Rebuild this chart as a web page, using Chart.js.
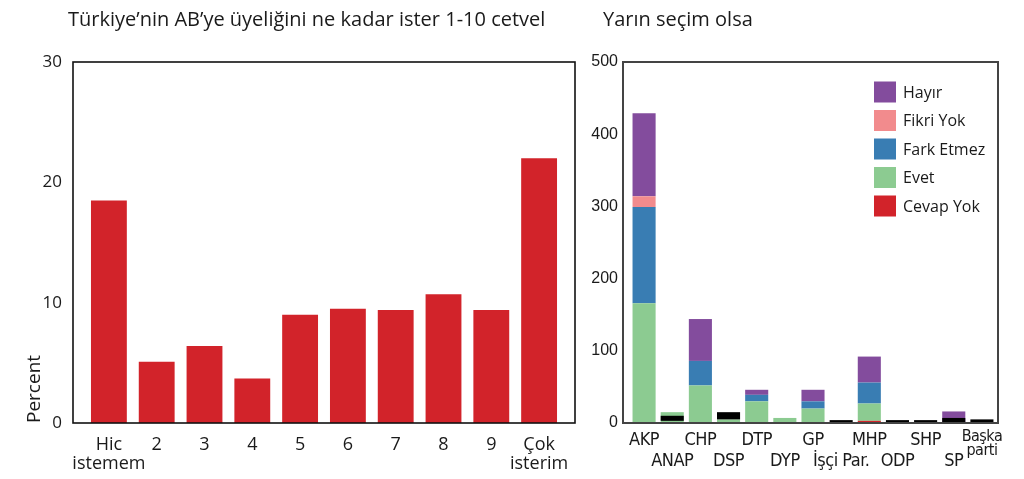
<!DOCTYPE html>
<html>
<head>
<meta charset="utf-8">
<script src="https://cdn.jsdelivr.net/npm/chart.js@4.4.1/dist/chart.umd.min.js"></script>
<style>
  html, body { margin: 0; padding: 0; background: #fff; }
  #wrap { position: relative; width: 1024px; height: 479px; overflow: hidden; }
  .box { position: absolute; top: 0; height: 479px; }
  #leftBox { left: 0; width: 590px; }
  #rightBox { left: 590px; width: 434px; }
</style>
</head>
<body>
<div id="wrap">
  <div class="box" id="leftBox"><canvas id="scaleChart"></canvas></div>
  <div class="box" id="rightBox"><canvas id="voteChart"></canvas></div>
</div>
<script>
// Sol grafik: AB uyeligi 1-10 cetvel
const scaleLabels = [["Hic", "istemem"], "2", "3", "4", "5", "6", "7", "8", "9", ["Çok", "isterim"]];
const scalePercent = [18.5, 5.1, 6.4, 3.7, 9.0, 9.5, 9.4, 10.7, 9.4, 22.0];
const scaleTicks = [0, 10, 20, 30];

// Sag grafik: yarin secim olsa
const parties = ["AKP", "ANAP", "CHP", "DSP", "DTP", "DYP", "GP", "İşçi Par.", "MHP", "ODP", "SHP", "SP", "Başka parti"];
const cevapYok = [0, 0, 0, 0, 0, 0, 0, 0, 3, 0, 0, 0, 0];
const evet = [166, 15, 52, 5, 30, 7, 20, 0, 24, 0, 0, 0, 0];
const farkEtmez = [133, 0, 34, 0, 9, 0, 10, 0, 29, 0, 0, 0, 0];
const fikriYok = [15, 0, 0, 0, 0, 0, 0, 0, 0, 0, 0, 0, 0];
const hayir = [115, 0, 58, 0, 7, 0, 16, 0, 36, 0, 0, 16, 0];
// siyah parcalar (lejantta yok), [alt, ust]
const blackSpans = [null, [3, 10], null, [5, 15], null, null, null, [0, 4], null, [0, 4], [0, 4], [0, 7], [0, 5]];
const voteTicks = [0, 100, 200, 300, 400, 500];

const TEXT = "#1a1a1a";
const RED = "#d2232a";

// Dar font var mi? (yoksa Open Sans)
function hasFont(name) {
  const c = document.createElement("canvas").getContext("2d");
  const s = "AKP ANAP İşçi Par. mmwwii";
  for (const fb of ["monospace", "serif"]) {
    c.font = "40px " + fb;
    const a = c.measureText(s).width;
    c.font = "40px '" + name + "', " + fb;
    if (c.measureText(s).width !== a) return true;
  }
  return false;
}
const narrowFont = ["Liberation Sans Narrow", "DejaVu Sans Condensed", "Open Sans"].find(hasFont) || "Open Sans";

// Cerceve + baslik cizen plugin
const framePlugin = {
  id: "frame",
  afterDatasetsDraw(chart, args, opts) {
    const { ctx, chartArea } = chart;
    ctx.save();
    ctx.strokeStyle = opts.color;
    ctx.lineWidth = opts.width;
    ctx.strokeRect(chartArea.left - opts.padLeft, chartArea.top,
      chartArea.right - chartArea.left + opts.padLeft + opts.padRight,
      chartArea.bottom - chartArea.top);
    ctx.restore();
  },
  afterDraw(chart, args, opts) {
    const ctx = chart.ctx;
    ctx.save();
    ctx.fillStyle = TEXT;
    ctx.font = opts.titleSize + "px 'Open Sans'";
    ctx.textBaseline = "middle";
    ctx.textAlign = "left";
    ctx.fillText(opts.title, opts.titleX, opts.titleY);
    ctx.restore();
  },
};

// Lejant (grafik icinde, sag ust)
const innerLegend = {
  id: "innerLegend",
  afterDraw(chart, args, opts) {
    if (!opts.show) return;
    const ctx = chart.ctx;
    const items = chart.data.datasets.filter((d) => !d.noLegend).slice().reverse();
    ctx.save();
    ctx.font = "16px 'Open Sans'";
    ctx.textBaseline = "middle";
    items.forEach((d, i) => {
      const y = opts.y + i * opts.step;
      ctx.fillStyle = d.backgroundColor;
      ctx.fillRect(opts.x, y - 10.5, 22, 21);
      ctx.fillStyle = TEXT;
      ctx.fillText(d.label, opts.x + 29, y + 1);
    });
    ctx.restore();
  },
};

// x ekseni etiketlerini biraz sikistir (harf araligi)
const tightLabels = {
  id: "tightLabels",
  beforeDraw(chart, args, opts) {
    if (!opts.spacing) return;
    const sc = chart.scales.x;
    if (!sc || sc._tightPatched) return;
    const orig = sc.drawLabels.bind(sc);
    sc.drawLabels = (area) => {
      chart.ctx.save();
      chart.ctx.letterSpacing = opts.spacing;
      orig(area);
      chart.ctx.restore();
    };
    sc._tightPatched = true;
  },
};

Chart.register(framePlugin, innerLegend, tightLabels);

const leftChart = new Chart(document.getElementById("scaleChart"), {
  type: "bar",
  data: {
    labels: scaleLabels,
    datasets: [
      {
        label: "Percent",
        data: scalePercent,
        backgroundColor: RED,
        categoryPercentage: 1,
        barPercentage: 0.75,
      },
    ],
  },
  options: {
    responsive: true,
    maintainAspectRatio: false,
    animation: false,
    layout: { padding: { top: 62, right: 27, bottom: 0, left: 0 } },
    plugins: {
      legend: { display: false },
      tooltip: { enabled: false },
      frame: { color: "#111", width: 1.6, padLeft: 12, padRight: 12, title: "Türkiye’nin AB’ye üyeliğini ne kadar ister 1-10 cetvel", titleX: 68, titleY: 20, titleSize: 20 },
      innerLegend: { show: false },
      tightLabels: { spacing: null },
    },
    scales: {
      x: {
        grid: { display: false, drawTicks: false },
        border: { display: false },
        ticks: { color: TEXT, padding: 12, maxRotation: 0, autoSkip: false, font: { family: "'Open Sans'", size: 18, lineHeight: "19px" } },
        afterFit: (s) => { s.height = 56; },
      },
      y: {
        min: 0,
        max: 30,
        grid: { display: false, drawTicks: false },
        border: { display: false },
        afterBuildTicks: (s) => { s.ticks = scaleTicks.map((v) => ({ value: v })); },
        ticks: { color: TEXT, padding: 23, font: { family: "'Open Sans'", size: 17 } },
        title: { display: true, text: "Percent", align: "start", color: TEXT, padding: 0, font: { family: "'Open Sans'", size: 19, lineHeight: "70px" } },
        afterFit: (s) => { s.width = 85; },
      },
    },
  },
});

const stackDefaults = { categoryPercentage: 1, barPercentage: 0.82, stack: "s" };

const rightChart = new Chart(document.getElementById("voteChart"), {
  type: "bar",
  data: {
    labels: parties,
    datasets: [
      { label: "Cevap Yok", data: cevapYok, backgroundColor: RED, ...stackDefaults },
      { label: "Evet", data: evet, backgroundColor: "#8ccb91", ...stackDefaults },
      { label: "Fark Etmez", data: farkEtmez, backgroundColor: "#397db3", ...stackDefaults },
      { label: "Fikri Yok", data: fikriYok, backgroundColor: "#f28b8d", ...stackDefaults },
      { label: "Hayır", data: hayir, backgroundColor: "#834c9d", ...stackDefaults },
      {
        label: "",
        noLegend: true,
        data: blackSpans,
        backgroundColor: "#000",
        yAxisID: "y2",
        grouped: false,
        order: -1,
        categoryPercentage: 1,
        barPercentage: 0.82,
      },
    ],
  },
  options: {
    responsive: true,
    maintainAspectRatio: false,
    animation: false,
    layout: { padding: { top: 62, right: 28, bottom: 0, left: 0 } },
    plugins: {
      legend: { display: false },
      tooltip: { enabled: false },
      frame: { color: "#444", width: 2, padLeft: 7, padRight: 2, title: "Yarın seçim olsa", titleX: 13, titleY: 20, titleSize: 20 },
      innerLegend: { show: true, x: 284, y: 92, step: 28.5 },
      tightLabels: { spacing: narrowFont === "Open Sans" ? "-1.5px" : "-0.5px" },
    },
    scales: {
      x: {
        stacked: true,
        grid: { display: false, drawTicks: false },
        border: { display: false },
        ticks: {
          color: TEXT,
          padding: 7,
          maxRotation: 0,
          autoSkip: false,
          callback: (v, i) => {
            const name = parties[i];
            if (name === "Başka parti") return ["Başka", "parti"];
            return i % 2 === 1 ? ["", name] : name;
          },
          font: (c) => ({
            family: "'" + narrowFont + "'",
            size: c.index === parties.length - 1 ? 16 : 18,
            lineHeight: c.index === parties.length - 1 ? "14px" : "21px",
          }),
        },
        afterFit: (s) => { s.height = 56; },
      },
      y: {
        stacked: true,
        min: 0,
        max: 500,
        grid: { display: false, drawTicks: false },
        border: { display: false },
        afterBuildTicks: (s) => { s.ticks = voteTicks.map((v) => ({ value: v })); },
        ticks: { color: TEXT, padding: 12, font: { family: "'Liberation Sans'", size: 16 } },
        afterFit: (s) => { s.width = 40; },
      },
      y2: {
        display: false,
        stacked: false,
        min: 0,
        max: 500,
      },
    },
  },
});
</script>
</body>
</html>
